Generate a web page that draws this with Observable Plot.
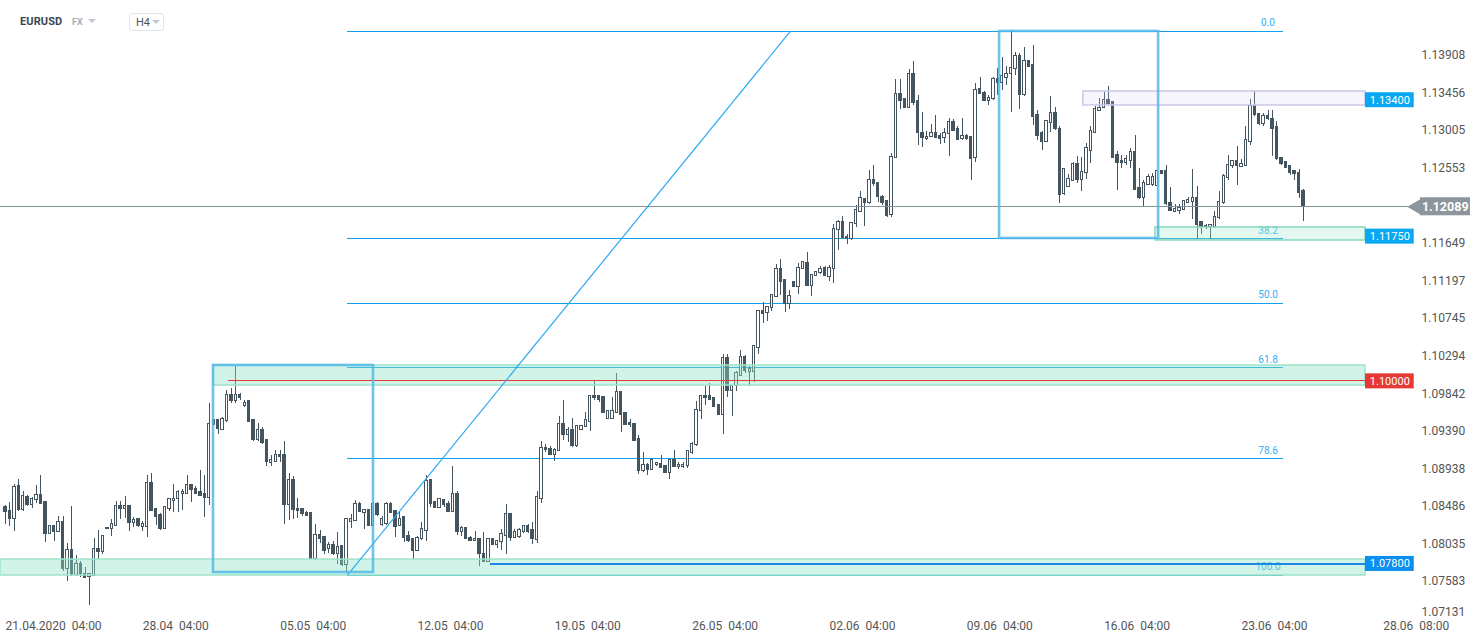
<!DOCTYPE html>
<html>
<head>
<meta charset="utf-8">
<script src="https://cdn.jsdelivr.net/npm/d3@7"></script>
<script src="https://cdn.jsdelivr.net/npm/@observablehq/plot@0.6"></script>
<style>
  body { margin: 0; background: #fff; font-family: Roboto, "Noto Sans", sans-serif; }
  #wrap { position: relative; width: 1482px; height: 643px; overflow: hidden; background: #fff; }
  #chart { position: absolute; left: 0; top: 0; }
  #hdr { position: absolute; left: 0; top: 0; width: 300px; height: 40px; }
  .sym { position: absolute; left: 20px; top: 15px; font-size: 11px; font-weight: 700; color: #3b4753; letter-spacing: 0.1px; }
  .mkt { position: absolute; left: 72px; top: 17px; font-size: 9px; font-weight: 700; color: #a3adb7; }
  .caret { position: absolute; width: 0; height: 0; border-left: 4px solid transparent; border-right: 4px solid transparent; border-top: 4px solid #c3c9cf; }
  .tf { position: absolute; left: 129px; top: 13px; width: 35px; height: 18px; border: 1px solid #e1e4e8; border-radius: 3px; box-sizing: border-box; }
  .tf span { position: absolute; left: 6px; top: 2px; font-size: 11px; color: #4a5560; }
</style>
</head>
<body>
<div id="wrap">
  <div id="chart"></div>
  <div id="hdr">
    <div class="sym">EURUSD</div>
    <div class="mkt">FX</div>
    <div class="caret" style="left:88px;top:19px;"></div>
    <div class="tf"><span>H4</span><div class="caret" style="left:22px;top:6px;"></div></div>
  </div>
</div>
<script>
// ---------- Candles (EURUSD H4), one value per 4-hour bar ----------
const open = [
1.0848,1.0843,1.0833,1.0873,1.0844,1.0860,1.0850,1.0856,1.0862,1.0854,
1.0815,1.0825,1.0818,1.0830,1.0774,1.0796,1.0766,1.0779,1.0768,1.0764,
1.0765,1.0798,1.0794,1.0821,1.0822,1.0825,1.0849,1.0846,1.0849,1.0829,
1.0833,1.0824,1.0824,1.0877,1.0845,1.0838,1.0822,1.0846,1.0855,1.0857,
1.0863,1.0864,1.0875,1.0869,1.0866,1.0863,1.0859,1.0952,1.0952,1.0941,
1.0951,1.0983,1.0975,1.0983,1.0969,1.0975,1.0952,1.0928,1.0941,1.0928,
1.0901,1.0902,1.0911,1.0910,1.0850,1.0880,1.0846,1.0845,1.0841,1.0841,
1.0786,1.0814,1.0812,1.0798,1.0802,1.0792,1.0801,1.0778,1.0830,1.0831,
1.0852,1.0841,1.0844,1.0825,1.0851,1.0826,1.0827,1.0852,1.0843,1.0825,
1.0836,1.0813,1.0809,1.0795,1.0810,1.0819,1.0880,1.0854,1.0847,1.0856,
1.0851,1.0842,1.0864,1.0818,1.0823,1.0811,1.0807,1.0810,1.0792,1.0782,
1.0809,1.0802,1.0806,1.0813,1.0839,1.0811,1.0812,1.0818,1.0825,1.0820,
1.0808,1.0858,1.0919,1.0918,1.0911,1.0915,1.0948,1.0934,1.0941,1.0921,
1.0941,1.0944,1.0950,1.0982,1.0982,1.0980,1.0954,1.0954,1.0961,1.0986,
1.0961,1.0949,1.0948,1.0930,1.0891,1.0898,1.0892,1.0898,1.0900,1.0897,
1.0889,1.0905,1.0896,1.0896,1.0897,1.0913,1.0922,1.0963,1.0982,1.0982,
1.0979,1.0970,1.0959,1.1027,1.0988,1.0993,1.1006,1.1028,1.1010,1.1010,
1.1039,1.1083,1.1081,1.1087,1.1101,1.1134,1.1121,1.1092,1.1119,1.1113,
1.1134,1.1141,1.1114,1.1126,1.1129,1.1135,1.1125,1.1134,1.1181,1.1190,
1.1172,1.1170,1.1188,1.1203,1.1218,1.1213,1.1241,1.1237,1.1221,1.1216,
1.1199,1.1268,1.1345,1.1338,1.1328,1.1369,1.1336,1.1297,1.1290,1.1293,
1.1297,1.1294,1.1291,1.1296,1.1311,1.1302,1.1290,1.1294,1.1293,1.1267,
1.1350,1.1346,1.1336,1.1338,1.1363,1.1358,1.1364,1.1368,1.1375,1.1390,
1.1343,1.1384,1.1379,1.1319,1.1297,1.1287,1.1310,1.1322,1.1303,1.1224,
1.1233,1.1240,1.1260,1.1241,1.1249,1.1276,1.1298,1.1324,1.1328,1.1337,
1.1335,1.1271,1.1264,1.1261,1.1264,1.1275,1.1231,1.1220,1.1235,1.1235,
1.1234,1.1252,1.1252,1.1214,1.1203,1.1204,1.1205,1.1214,1.1215,1.1219,
1.1190,1.1186,1.1185,1.1185,1.1195,1.1213,1.1244,1.1258,1.1264,1.1257,
1.1258,1.1287,1.1330,1.1320,1.1309,1.1318,1.1315,1.1305,1.1267,1.1263,
1.1258,1.1252,1.1249,1.1228];
const high = [
1.0850,1.0853,1.0875,1.0881,1.0867,1.0862,1.0859,1.0874,1.0886,1.0854,
1.0826,1.0825,1.0836,1.0836,1.0804,1.0848,1.0790,1.0782,1.0775,1.0768,
1.0810,1.0820,1.0813,1.0823,1.0833,1.0855,1.0855,1.0861,1.0849,1.0835,
1.0833,1.0830,1.0886,1.0888,1.0845,1.0840,1.0848,1.0857,1.0875,1.0868,
1.0869,1.0886,1.0875,1.0873,1.0892,1.0886,1.0972,1.0952,1.0952,1.0955,
1.0988,1.0990,1.1017,1.0984,1.0976,1.0975,1.0952,1.0948,1.0944,1.0928,
1.0910,1.0916,1.0916,1.0927,1.0888,1.0885,1.0858,1.0845,1.0843,1.0841,
1.0827,1.0820,1.0812,1.0805,1.0806,1.0817,1.0802,1.0834,1.0839,1.0856,
1.0853,1.0845,1.0844,1.0853,1.0853,1.0837,1.0853,1.0853,1.0843,1.0843,
1.0836,1.0819,1.0809,1.0812,1.0829,1.0886,1.0880,1.0855,1.0858,1.0857,
1.0854,1.0897,1.0866,1.0825,1.0823,1.0813,1.0818,1.0810,1.0817,1.0809,
1.0810,1.0808,1.0821,1.0851,1.0840,1.0821,1.0822,1.0826,1.0827,1.0829,
1.0866,1.0927,1.0923,1.0921,1.0918,1.0957,1.0976,1.0943,1.0954,1.0945,
1.0946,1.0961,1.0982,1.0999,1.0982,1.0980,1.0963,1.0980,1.1008,1.0986,
1.0961,1.0953,1.0948,1.0934,1.0914,1.0900,1.0905,1.0901,1.0910,1.0897,
1.0905,1.0916,1.0901,1.0901,1.0915,1.0925,1.0975,1.0982,1.0993,1.0997,
1.0979,1.0970,1.1031,1.1031,1.0994,1.1011,1.1036,1.1030,1.1017,1.1041,
1.1083,1.1094,1.1088,1.1103,1.1139,1.1145,1.1121,1.1108,1.1119,1.1141,
1.1143,1.1154,1.1127,1.1131,1.1137,1.1137,1.1138,1.1188,1.1192,1.1197,
1.1175,1.1189,1.1211,1.1227,1.1219,1.1252,1.1258,1.1238,1.1222,1.1216,
1.1273,1.1362,1.1362,1.1338,1.1374,1.1384,1.1343,1.1322,1.1299,1.1308,
1.1319,1.1297,1.1303,1.1315,1.1314,1.1305,1.1315,1.1296,1.1293,1.1357,
1.1364,1.1348,1.1343,1.1364,1.1375,1.1388,1.1378,1.1421,1.1394,1.1393,
1.1400,1.1385,1.1403,1.1325,1.1300,1.1313,1.1341,1.1328,1.1306,1.1254,
1.1248,1.1262,1.1269,1.1268,1.1285,1.1305,1.1329,1.1339,1.1346,1.1353,
1.1335,1.1275,1.1271,1.1271,1.1279,1.1294,1.1255,1.1240,1.1248,1.1249,
1.1252,1.1252,1.1258,1.1232,1.1212,1.1212,1.1216,1.1220,1.1254,1.1233,
1.1190,1.1188,1.1188,1.1203,1.1227,1.1248,1.1270,1.1265,1.1281,1.1266,
1.1306,1.1338,1.1347,1.1321,1.1321,1.1325,1.1325,1.1311,1.1267,1.1263,
1.1259,1.1253,1.1254,1.1230];
const low = [
1.0827,1.0825,1.0818,1.0843,1.0843,1.0849,1.0846,1.0852,1.0852,1.0805,
1.0815,1.0806,1.0818,1.0770,1.0758,1.0765,1.0764,1.0763,1.0762,1.0729,
1.0765,1.0785,1.0791,1.0821,1.0813,1.0825,1.0833,1.0834,1.0818,1.0823,
1.0823,1.0818,1.0811,1.0843,1.0826,1.0820,1.0822,1.0842,1.0841,1.0841,
1.0844,1.0864,1.0853,1.0864,1.0861,1.0835,1.0850,1.0947,1.0935,1.0940,
1.0950,1.0972,1.0972,1.0976,1.0968,1.0950,1.0927,1.0927,1.0923,1.0897,
1.0897,1.0902,1.0902,1.0827,1.0832,1.0833,1.0834,1.0836,1.0836,1.0785,
1.0784,1.0804,1.0791,1.0792,1.0790,1.0779,1.0777,1.0768,1.0822,1.0830,
1.0841,1.0821,1.0824,1.0825,1.0837,1.0825,1.0826,1.0840,1.0811,1.0824,
1.0805,1.0805,1.0785,1.0794,1.0808,1.0806,1.0847,1.0846,1.0846,1.0847,
1.0841,1.0842,1.0814,1.0812,1.0810,1.0806,1.0807,1.0776,1.0781,1.0781,
1.0802,1.0798,1.0796,1.0791,1.0807,1.0810,1.0810,1.0816,1.0816,1.0803,
1.0804,1.0852,1.0914,1.0910,1.0903,1.0915,1.0928,1.0926,1.0920,1.0920,
1.0940,1.0944,1.0939,1.0976,1.0973,1.0960,1.0954,1.0953,1.0960,1.0938,
1.0946,1.0944,1.0927,1.0887,1.0890,1.0886,1.0892,1.0897,1.0894,1.0888,
1.0881,1.0895,1.0893,1.0894,1.0894,1.0911,1.0921,1.0953,1.0970,1.0976,
1.0968,1.0959,1.0935,1.0980,1.0957,1.0987,1.1006,1.1008,1.0993,1.0998,
1.1031,1.1069,1.1071,1.1083,1.1101,1.1102,1.1082,1.1085,1.1113,1.1103,
1.1133,1.1114,1.1101,1.1126,1.1128,1.1125,1.1119,1.1117,1.1156,1.1171,
1.1163,1.1168,1.1184,1.1203,1.1185,1.1212,1.1233,1.1214,1.1211,1.1196,
1.1196,1.1267,1.1326,1.1327,1.1327,1.1331,1.1283,1.1280,1.1289,1.1293,
1.1291,1.1284,1.1285,1.1269,1.1299,1.1289,1.1289,1.1289,1.1241,1.1262,
1.1344,1.1336,1.1331,1.1337,1.1343,1.1349,1.1355,1.1322,1.1367,1.1326,
1.1341,1.1376,1.1307,1.1288,1.1277,1.1286,1.1298,1.1301,1.1213,1.1222,
1.1232,1.1239,1.1237,1.1227,1.1242,1.1261,1.1297,1.1323,1.1327,1.1331,
1.1267,1.1228,1.1255,1.1259,1.1255,1.1228,1.1218,1.1208,1.1234,1.1233,
1.1233,1.1248,1.1210,1.1203,1.1202,1.1200,1.1205,1.1213,1.1194,1.1170,
1.1176,1.1182,1.1170,1.1184,1.1194,1.1212,1.1241,1.1255,1.1235,1.1256,
1.1257,1.1283,1.1318,1.1307,1.1306,1.1313,1.1269,1.1265,1.1259,1.1256,
1.1247,1.1241,1.1219,1.1191];
const close = [
1.0842,1.0833,1.0872,1.0844,1.0861,1.0850,1.0857,1.0862,1.0852,1.0815,
1.0825,1.0818,1.0830,1.0774,1.0796,1.0766,1.0779,1.0768,1.0763,1.0767,
1.0798,1.0794,1.0813,1.0823,1.0827,1.0849,1.0846,1.0849,1.0829,1.0832,
1.0825,1.0827,1.0877,1.0843,1.0836,1.0822,1.0848,1.0857,1.0858,1.0866,
1.0866,1.0875,1.0868,1.0864,1.0861,1.0859,1.0948,1.0947,1.0942,1.0954,
1.0983,1.0975,1.0983,1.0979,1.0973,1.0950,1.0928,1.0940,1.0925,1.0902,
1.0904,1.0911,1.0908,1.0850,1.0881,1.0844,1.0843,1.0839,1.0837,1.0786,
1.0814,1.0810,1.0795,1.0802,1.0792,1.0800,1.0778,1.0833,1.0833,1.0852,
1.0842,1.0844,1.0825,1.0852,1.0838,1.0834,1.0852,1.0841,1.0824,1.0834,
1.0811,1.0807,1.0795,1.0811,1.0821,1.0879,1.0852,1.0847,1.0857,1.0850,
1.0842,1.0863,1.0818,1.0823,1.0810,1.0807,1.0810,1.0791,1.0782,1.0809,
1.0802,1.0807,1.0815,1.0839,1.0811,1.0818,1.0820,1.0825,1.0818,1.0809,
1.0860,1.0919,1.0916,1.0911,1.0917,1.0948,1.0934,1.0941,1.0921,1.0945,
1.0945,1.0952,1.0982,1.0979,1.0976,1.0961,1.0963,1.0963,1.0986,1.0959,
1.0947,1.0946,1.0927,1.0891,1.0898,1.0892,1.0905,1.0901,1.0895,1.0889,
1.0905,1.0896,1.0899,1.0899,1.0915,1.0924,1.0965,1.0981,1.0979,1.0976,
1.0968,1.0959,1.1027,1.0988,1.0994,1.1009,1.1028,1.1012,1.1014,1.1041,
1.1083,1.1080,1.1088,1.1103,1.1134,1.1119,1.1092,1.1102,1.1113,1.1135,
1.1142,1.1114,1.1127,1.1130,1.1134,1.1126,1.1135,1.1182,1.1190,1.1171,
1.1170,1.1189,1.1205,1.1219,1.1214,1.1241,1.1236,1.1221,1.1214,1.1198,
1.1269,1.1345,1.1336,1.1328,1.1369,1.1334,1.1297,1.1291,1.1293,1.1297,
1.1292,1.1290,1.1297,1.1311,1.1300,1.1289,1.1294,1.1290,1.1266,1.1349,
1.1344,1.1336,1.1340,1.1363,1.1358,1.1366,1.1369,1.1376,1.1390,1.1343,
1.1384,1.1377,1.1317,1.1294,1.1287,1.1312,1.1322,1.1302,1.1223,1.1254,
1.1242,1.1260,1.1241,1.1251,1.1279,1.1300,1.1326,1.1328,1.1337,1.1332,
1.1268,1.1261,1.1261,1.1266,1.1275,1.1229,1.1220,1.1237,1.1245,1.1245,
1.1252,1.1248,1.1212,1.1204,1.1206,1.1208,1.1216,1.1217,1.1219,1.1187,
1.1185,1.1184,1.1187,1.1197,1.1215,1.1246,1.1259,1.1264,1.1258,1.1260,
1.1289,1.1330,1.1319,1.1309,1.1318,1.1314,1.1302,1.1266,1.1260,1.1256,
1.1250,1.1248,1.1226,1.12089];

// ---------- Axis ticks ----------
const xTickIndex  = [0, 31, 62, 93, 124, 155, 186, 217, 248, 279, 311];
const xTickLabels = ["21.04.2020\u00a0\u00a004:00","28.04\u00a0\u00a004:00","05.05\u00a0\u00a004:00","12.05\u00a0\u00a004:00",
  "19.05\u00a0\u00a004:00","26.05\u00a0\u00a004:00","02.06\u00a0\u00a004:00","09.06\u00a0\u00a004:00",
  "16.06\u00a0\u00a004:00","23.06\u00a0\u00a004:00","28.06\u00a0\u00a008:00"];
const yTicks = [1.07583,1.08035,1.08486,1.08938,1.09390,1.09842,1.10294,1.10745,1.11197,1.11649,1.12553,1.13005,1.13456,1.13908];
const yTickBottom = [1.07131]; // bottom label, pushed up by the time axis

// ---------- Drawing tools ----------
// Fibonacci retracement: swing low / swing high and bar anchors
const fibLow = 1.0766, fibHigh = 1.1420;
const fibStartIdx = 77.2, fibTrendEndIdx = 177.2, fibEndIdx = 288.5, fibLabelIdx = 285;
const fibRatios = [0, 0.382, 0.5, 0.618, 0.786, 1];
const fibLabels = ["0.0", "38.2", "50.0", "61.8", "78.6", "100.0"];

// horizontal zones
const zoneLow   = [1.07656, 1.09940, 1.11684, 1.13307];
const zoneHigh  = [1.07848, 1.10181, 1.11840, 1.13475];
const zoneStart = [-1.13, 46.95, 259.6, 243.3];
const zoneFill  = ["#8fe0c2", "#8fe0c2", "#a6e8cf", "#d9d3f0"];
const zoneAlpha = [0.4, 0.4, 0.32, 0.2];
const zoneLine  = ["#9ee3c9", "#9ee3c9", "#86d9b8", "#cdc6e6"];
const zoneEndIdx = 307;

// horizontal level lines
const levelPrice = [1.10000, 1.07800];
const levelStart = [50.3, 109.5];
const levelColor = ["#e53935", "#1e88e5"];
const levelWidth = [1, 2];

// price tags on the right
const tagText  = ["1.13400", "1.11750", "1.10000", "1.07800"];
const tagPrice = [1.13370, 1.11730, 1.09990, 1.07795];
const tagColor = ["#0aa7f2", "#0aa7f2", "#e53935", "#0a8ef0"];
const tagStartIdx = 307, tagEndIdx = 318.0, tagTextIdx = 312.5;

// last price
const lastPrice = 1.12089;
const lastTagStart = 319.4, lastTagEnd = 330.7, lastTagText = 325.0, lastArrowIdx = 318.6;

// highlight boxes
const boxX1 = [46.95, 224.4], boxX2 = [83.07, 260.3];
const boxY1 = [1.07692, 1.11708], boxY2 = [1.10181, 1.14197];

// ---------- build ----------
const candleColor = "#455560";
const crisp = "crispEdges";
const candles = open.map((o, i) => ({i, o, h: high[i], l: low[i], c: close[i]}));
const fib = fibRatios.map((r, k) => ({p: fibHigh - r * (fibHigh - fibLow), label: fibLabels[k], x1: fibStartIdx, x2: fibEndIdx, lx: fibLabelIdx}));
const zones = zoneLow.map((lo, k) => ({lo, hi: zoneHigh[k], x1: zoneStart[k], x2: zoneEndIdx, fill: zoneFill[k], a: zoneAlpha[k], line: zoneLine[k]}));
const levels = levelPrice.map((p, k) => ({p, x1: levelStart[k], x2: zoneEndIdx, color: levelColor[k], w: levelWidth[k]}));
const pxPrice = 1 / 8318; // price per pixel on the y scale
const tags = tagText.map((t, k) => ({t, p: tagPrice[k], lo: tagPrice[k] - 7.5 * pxPrice, hi: tagPrice[k] + 7.5 * pxPrice, color: tagColor[k], x1: tagStartIdx, x2: tagEndIdx, tx: tagTextIdx}));
const boxes = boxX1.map((x, k) => ({x1: x, x2: boxX2[k], y1: boxY1[k], y2: boxY2[k]}));
const trend = [{x1: fibStartIdx, y1: fibLow, x2: fibTrendEndIdx, y2: fibHigh}];
const last = [{p: lastPrice, lo: lastPrice - 9 * pxPrice, hi: lastPrice + 9 * pxPrice, x1: lastTagStart, x2: lastTagEnd, tx: lastTagText, ax: lastArrowIdx}];

const chart = Plot.plot({
  width: 1482, height: 643,
  marginTop: 0, marginRight: 72, marginBottom: 23, marginLeft: 0,
  x: {type: "linear", domain: [-1.1287, 317.16]},
  y: {type: "linear", domain: [1.07115, 1.14569]},
  style: {fontFamily: "Roboto, 'Noto Sans', sans-serif", fontSize: "12px", background: "#fff", overflow: "visible"},
  marks: [
    // fibonacci levels + labels
    Plot.ruleY(fib, {y: "p", x1: "x1", x2: "x2", stroke: "#12a0ea", strokeWidth: 1, shapeRendering: crisp}),
    Plot.text(fib, {x: "lx", y: "p", text: "label", dy: -8, fill: "#35aef0", fontSize: 10}),
    // candles
    Plot.ruleX(candles, {x: "i", y1: "l", y2: "h", stroke: candleColor, strokeWidth: 1, shapeRendering: crisp}),
    Plot.rect(candles, {x1: d => d.i - 0.27, x2: d => d.i + 0.27, y1: "o", y2: "c",
      fill: d => d.c > d.o ? "#ffffff" : candleColor, stroke: candleColor, strokeWidth: 1, shapeRendering: crisp}),
    // zones
    Plot.rect(zones, {x1: "x1", x2: "x2", y1: "lo", y2: "hi", fill: "fill", fillOpacity: "a", stroke: "line", strokeWidth: 1.5}),
    // last price line
    Plot.ruleY(last, {y: "p", stroke: "#84929b", strokeWidth: 1, shapeRendering: crisp}),
    // level lines
    Plot.ruleY(levels, {y: "p", x1: "x1", x2: "x2", stroke: "color", strokeWidth: "w", shapeRendering: crisp}),
    // fib trend line
    Plot.link(trend, {x1: "x1", y1: "y1", x2: "x2", y2: "y2", stroke: "#2aaaf2", strokeWidth: 1.2}),
    // boxes
    Plot.rect(boxes, {x1: "x1", x2: "x2", y1: "y1", y2: "y2", fill: "none", stroke: "#55b8e8", strokeWidth: 2.6, strokeOpacity: 0.85}),
    // price tags
    Plot.rect(tags, {x1: "x1", x2: "x2", y1: "lo", y2: "hi", fill: "color"}),
    Plot.text(tags, {x: "tx", y: "p", text: "t", fill: "#fff", fontSize: 11}),
    Plot.rect(last, {x1: "x1", x2: "x2", y1: "lo", y2: "hi", fill: "#8c969c"}),
    Plot.dot(last, {x: "ax", y: "p", symbol: "triangle", rotate: -90, r: 6.2, fill: "#8c969c", stroke: null}),
    Plot.text(last, {x: "tx", y: "p", text: d => d.p.toFixed(5), fill: "#fff", fontSize: 12.5, fontWeight: 700}),
    // axes
    Plot.axisY({anchor: "right", ticks: yTicks, tickFormat: d => d.toFixed(5), tickSize: 0, tickPadding: 11, color: "#555", fontSize: 12}),
    Plot.axisY({anchor: "right", ticks: yTickBottom, tickFormat: d => d.toFixed(5), tickSize: 0, tickPadding: 11, color: "#555", fontSize: 12, dy: -7}),
    Plot.axisX({anchor: "bottom", ticks: xTickIndex, tickFormat: d => xTickLabels[xTickIndex.indexOf(d)], tickSize: 0, tickPadding: 1, textAnchor: "start", color: "#555", fontSize: 12})
  ]
});
document.getElementById("chart").appendChild(chart);
</script>
</body>
</html>
